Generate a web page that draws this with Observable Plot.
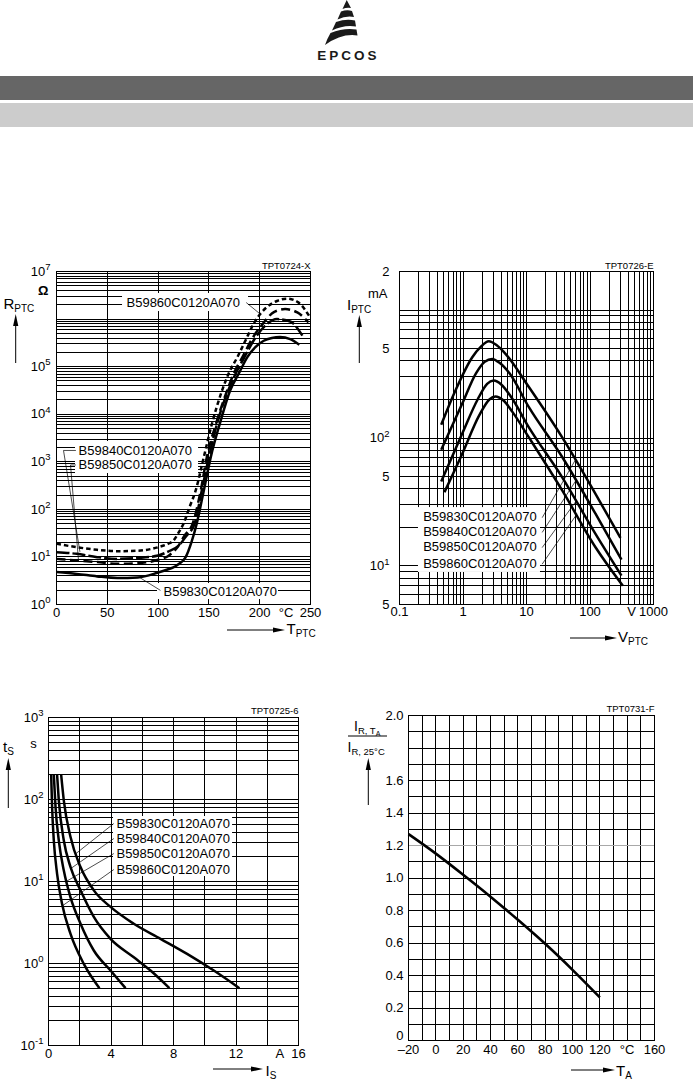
<!DOCTYPE html>
<html><head><meta charset="utf-8">
<script src="https://cdn.jsdelivr.net/npm/d3@7"></script>
<script src="https://cdn.jsdelivr.net/npm/@observablehq/plot@0.6"></script>
<style>
html,body{margin:0;padding:0;background:#fff;}
#page{position:relative;width:693px;height:1087px;overflow:hidden;font-family:"Liberation Sans",Arial,Helvetica,sans-serif;}
.chart{position:absolute;}
#overlay{position:absolute;left:0;top:0;}
</style></head>
<body><div id="page"><svg id="overlay" width="693" height="1087"></svg></div>
<script>
// ================= DATA =================
const partNames = ["B59830C0120A070","B59840C0120A070","B59850C0120A070","B59860C0120A070"];

// Chart 1: R_PTC (Ω) vs T_PTC (°C)
const rptcTemp830 = [0,20,40,60,80,100,110,115,120,127,133,138,145,152,161,171,180,188,196,204,212,220,230,239];
const rptcRes830  = [4.8,4.4,3.9,3.6,3.7,4.7,5.5,6.0,7.0,9.8,21,50,250,1300,6600,32000,76000,160000,260000,350000,400000,420000,380000,290000];
const rptcTemp840 = [0,20,40,60,80,100,110,120,128,136,143,150,158,169,177,185,194,205,217,230,242];
const rptcRes840  = [12.6,11.6,9.9,9.1,9.5,10.7,13,17,28,50,250,1260,6300,31600,76000,158000,355000,708000,1000000,890000,450000];
const rptcTemp850 = [0,20,40,60,80,100,110,119,126,134,142,148,157,168,175,183,193,203,214,225,237,248];
const rptcRes850  = [9.1,8.4,7.8,7.2,7.4,8.7,10.5,16,28,50,250,1260,6300,31600,76000,158000,400000,794000,1400000,1620000,1380000,850000];
const rptcTemp860 = [0,20,40,60,80,100,110,115,120,125,131,137,145,153,163,170,178,186,194,201,207,217,227,238,250];
const rptcRes860  = [18.9,16,14.1,13.2,13.5,16,19,22,32,50,112,250,1260,6300,31600,76000,158000,355000,794000,1320000,1780000,2400000,2690000,2240000,1050000];
const tickT1 = [0,50,100,150,200,226,250];
const tickT1Labels = ["0","50","100","150","200","°C","250"];
const tickR1 = [1,10,100,1000,10000,100000,10000000];
const tickR1Labels = ["10^0","10^1","10^2","10^3","10^4","10^5","10^7"];

// Chart 2: I_PTC (mA) vs V_PTC (V)
const iptcV830 = [0.454,0.76,1.4,1.9,2.55,3.4,4.67,10.9,36.5,122,302];
const iptcI830 = [127,235,428,515,570,530,455,250,101,36.6,16.6];
const iptcV840 = [0.454,0.97,1.6,2.2,2.88,3.8,5.4,10.9,36.5,122,313];
const iptcI840 = [81,185,320,395,415,385,320,174,71,25.6,11.2];
const iptcV850 = [0.454,0.97,1.7,2.4,3.05,4.0,5.7,10.9,36.5,122,313];
const iptcI850 = [45.7,108,200,265,281,262,210,121,49.3,17.8,8.4];
const iptcV860 = [0.51,0.97,1.8,2.6,3.25,4.3,6.0,10.9,36.5,122,329];
const iptcI860 = [37.7,75,150,200,211,197,160,101,38.9,14,7.0];
const tickV2 = [0.1,1,10,100,450,1000];
const tickV2Labels = ["0.1","1","10","100","V","1000"];
const tickI2 = [5,10,50,100,500,2000];
const tickI2Labels = ["5","10^1","5","10^2","5","2"];

// Chart 3: t_S (s) vs I_S (A)
const tsI830 = [0.81,0.98,1.41,2.05,2.90,3.97,5.46,7.17,8.87,10.58,12.22];
const tsT830 = [200,97,34.8,15,7.8,4.9,3.05,2.0,1.31,0.82,0.5];
const tsI840 = [0.55,0.66,0.98,1.41,2.05,2.90,3.97,5.46,6.53,7.74];
const tsT840 = [200,97,31.6,15,7.8,3.7,2.0,1.19,0.82,0.5];
const tsI850 = [0.34,0.45,0.66,0.98,1.41,2.05,2.90,3.97,4.93];
const tsT850 = [200,81,31.6,13.6,6.4,3.05,1.44,0.82,0.5];
const tsI860 = [0.17,0.23,0.34,0.55,0.87,1.41,2.26,3.26];
const tsT860 = [200,81,31.6,12.4,5.3,2.3,0.99,0.5];
const tickI3 = [0,4,8,12,14.8,16];
const tickI3Labels = ["0","4","8","12","A","16"];
const tickT3 = [0.1,1,10,100,1000];
const tickT3Labels = ["10^-1","10^0","10^1","10^2","10^3"];

// Chart 4: I_R,TA / I_R,25°C vs T_A
const ambTemp = [-20,0,20,40,60,80,100,120];
const currentRatio = [1.27,1.15,1.02,0.885,0.743,0.595,0.435,0.265];
const tickTA4 = [-20,0,20,40,60,80,100,120,140,160];
const tickTA4Labels = ["–20","0","20","40","60","80","100","120","°C","160"];
const tickR4 = [0,0.2,0.4,0.6,0.8,1.0,1.2,1.4,1.6,2.0];
const tickR4Labels = ["0","0.2","0.4","0.6","0.8","1.0","1.2","1.4","1.6","2.0"];

// ================= ANNOTATIONS (label anchors in data units) =================
const labels1 = [
  {text:"B59860C0120A070", x:68.9, y:2.2e6},
  {text:"B59840C0120A070", x:21.7, y:1730},
  {text:"B59850C0120A070", x:21.7, y:857},
  {text:"B59830C0120A070", x:105.3, y:1.88}
];
const boxes1 = [
  {x1:65, x2:189, y1:1.44e6, y2:3.45e6},
  {x1:18.7, x2:139.8, y1:567, y2:2670},
  {x1:99.4, x2:218.5, y1:1.27, y2:2.76}
];
const leaders1 = [
  {id:"860", pts:[[187,2.2e6],[200,1.3e6]]},
  {id:"840", pts:[[18.7,1730],[6.9,1730],[23,13]]},
  {id:"850", pts:[[18.7,857],[13.8,857],[21.6,8.7]]},
  {id:"830", pts:[[82.7,3.6],[102,2.0]]}
];
const labels2Y = [24.0,18.4,14.0,10.4];
const box2 = [{x1:0.199, x2:16.6, y1:8.9, y2:28.6}];
const leaderEnds2 = [[59,67.6],[60,46.5],[61,32.3],[62,25.4]];
const labels3Y = [50.6,33.2,21.8,13.9];
const box3 = [{x1:4.16, x2:11.78, y1:11.5, y2:62}];
const leaderEnds3 = [[1.77,22],[1.45,14.5],[1.13,10.0],[0.92,5.1]];

// ================= HELPERS =================
const FONT = '"Liberation Sans", Arial, Helvetica, sans-serif';
const page = document.getElementById("page");
function place(svg, left, top){
  const d = document.createElement("div");
  d.className = "chart"; d.style.left = left+"px"; d.style.top = top+"px";
  d.appendChild(svg); page.appendChild(d);
}
function supers(svg){
  d3.select(svg).selectAll("text").each(function(){
    const t = this.textContent; const i = t.indexOf("^");
    if (i < 0) return;
    const s = d3.select(this); s.text(null);
    s.append("tspan").text(t.slice(0,i));
    s.append("tspan").attr("font-size","9.5px").attr("dy","-5.5").text(t.slice(i+1));
  });
}
function rows(xs, ys){ return xs.map((x,i)=>({x, y: ys[i]})); }
function logGrid(d0, d1){
  const out = [];
  for (let d=d0; d<=d1; d++) for (let k=1;k<=9;k++) out.push(+(k*Math.pow(10,d)).toPrecision(6));
  return out;
}
const gridStyle = {stroke:"black", strokeWidth:1, shapeRendering:"crispEdges"};
const curveStyle = {x:"x", y:"y", stroke:"black", strokeWidth:2.5, curve:"monotone-x", strokeLinecap:"butt"};
const plotStyle = {fontFamily:FONT, fontSize:"13px", background:"transparent", color:"black", overflow:"visible"};
function leaderRows(list){ return list.flatMap(l => l.pts.map(p => ({id:l.id, x:p[0], y:p[1]}))); }

// ================= CHART 1 =================
const dash1 = {"B59830C0120A070":"none","B59840C0120A070":"13,3","B59850C0120A070":"9,4.5","B59860C0120A070":"4.5,3"};
const series1 = [
  [partNames[0], rptcTemp830, rptcRes830],
  [partNames[1], rptcTemp840, rptcRes840],
  [partNames[2], rptcTemp850, rptcRes850],
  [partNames[3], rptcTemp860, rptcRes860]
];
const c1 = Plot.plot({
  width:330, height:400, marginLeft:56, marginRight:20, marginTop:21, marginBottom:46,
  style: plotStyle,
  x:{domain:[0,250], axis:null},
  y:{type:"log", domain:[1,1e7], axis:null},
  marks:[
    Plot.ruleX([50,100,150,200], gridStyle),
    Plot.ruleY(logGrid(0,6).filter(v=>v>1), gridStyle),
    Plot.rect(boxes1, {x1:"x1", x2:"x2", y1:"y1", y2:"y2", fill:"white"}),
    ...series1.map(([p,T,R]) => Plot.line(rows(T,R), {...curveStyle, strokeDasharray: dash1[p]})),
    Plot.line(leaderRows(leaders1), {x:"x", y:"y", z:"id", stroke:"black", strokeWidth:0.7}),
    Plot.text(labels1, {x:"x", y:"y", text:"text", textAnchor:"start", fontSize:13}),
    Plot.frame({stroke:"black", strokeWidth:1}),
    Plot.text(tickT1, {x:d=>d, text:(d,i)=>tickT1Labels[i], frameAnchor:"bottom", dy:12.5, fontSize:13}),
    Plot.text(tickR1, {y:d=>d, text:(d,i)=>tickR1Labels[i], frameAnchor:"left", textAnchor:"end", dx:-6, fontSize:13}),
    Plot.text(["Ω"], {y:()=>4e6, text:d=>d, frameAnchor:"left", textAnchor:"end", dx:-8, fontSize:13, fontWeight:"bold"}),
    Plot.text(["TPT0724-X"], {text:d=>d, frameAnchor:"top-right", textAnchor:"end", lineAnchor:"bottom", dy:-3, fontSize:9.5})
  ]
});
supers(c1); place(c1, 0, 250);

// ================= CHART 2 =================
const series2 = [
  [iptcV830, iptcI830],[iptcV840, iptcI840],[iptcV850, iptcI850],[iptcV860, iptcI860]
];
const labelRows2 = partNames.map((p,i)=>({text:p, x:0.236, y:labels2Y[i]}));
const leaderRows2 = partNames.flatMap((p,i)=>[{id:p, x:17.8, y:labels2Y[i]},{id:p, x:leaderEnds2[i][0], y:leaderEnds2[i][1]}]);
const c2 = Plot.plot({
  width:353, height:400, marginLeft:59, marginRight:40, marginTop:21, marginBottom:46,
  style: plotStyle,
  x:{type:"log", domain:[0.1,1000], axis:null},
  y:{type:"log", domain:[5,2000], axis:null},
  marks:[
    Plot.ruleX(logGrid(-1,2).filter(v=>v>0.1 && v<1000), gridStyle),
    Plot.ruleY(logGrid(0,3).filter(v=>v>5 && v<2000), gridStyle),
    Plot.rect(box2, {x1:"x1", x2:"x2", y1:"y1", y2:"y2", fill:"white"}),
    ...series2.map(([V,I]) => Plot.line(rows(V,I), curveStyle)),
    Plot.line(leaderRows2, {x:"x", y:"y", z:"id", stroke:"black", strokeWidth:0.7}),
    Plot.text(labelRows2, {x:"x", y:"y", text:"text", textAnchor:"start", fontSize:13}),
    Plot.frame({stroke:"black", strokeWidth:1}),
    Plot.text(tickV2, {x:d=>d, text:(d,i)=>tickV2Labels[i], frameAnchor:"bottom", dy:11.5, fontSize:13}),
    Plot.text(tickI2, {y:d=>d, text:(d,i)=>tickI2Labels[i], frameAnchor:"left", textAnchor:"end", dx:-10, fontSize:13}),
    Plot.text(["mA"], {y:()=>1350, text:d=>d, frameAnchor:"left", textAnchor:"end", dx:-12, fontSize:13}),
    Plot.text(["TPT0726-E"], {text:d=>d, frameAnchor:"top-right", textAnchor:"end", lineAnchor:"bottom", dy:-3, fontSize:9.5})
  ]
});
supers(c2); place(c2, 340, 250);

// ================= CHART 3 =================
const series3 = [[tsI830, tsT830],[tsI840, tsT840],[tsI850, tsT850],[tsI860, tsT860]];
const labelRows3 = partNames.map((p,i)=>({text:p, x:4.35, y:labels3Y[i]}));
const leaderRows3 = partNames.flatMap((p,i)=>[{id:p, x:4.16, y:labels3Y[i]},{id:p, x:leaderEnds3[i][0], y:leaderEnds3[i][1]}]);
const c3 = Plot.plot({
  width:330, height:397, marginLeft:48, marginRight:32, marginTop:27, marginBottom:42,
  style: plotStyle,
  x:{domain:[0,16], axis:null},
  y:{type:"log", domain:[0.1,1000], axis:null},
  marks:[
    Plot.ruleX([2,4,6,8,10,12,14], gridStyle),
    Plot.ruleY(logGrid(-1,2).filter(v=>v>0.1), gridStyle),
    Plot.rect(box3, {x1:"x1", x2:"x2", y1:"y1", y2:"y2", fill:"white"}),
    ...series3.map(([I,t]) => Plot.line(rows(I,t), curveStyle)),
    Plot.line(leaderRows3, {x:"x", y:"y", z:"id", stroke:"black", strokeWidth:0.7}),
    Plot.text(labelRows3, {x:"x", y:"y", text:"text", textAnchor:"start", fontSize:13}),
    Plot.frame({stroke:"black", strokeWidth:1}),
    Plot.text(tickI3, {x:d=>d, text:(d,i)=>tickI3Labels[i], frameAnchor:"bottom", dy:12, fontSize:13}),
    Plot.text(tickT3, {y:d=>d, text:(d,i)=>tickT3Labels[i], frameAnchor:"left", textAnchor:"end", dx:-5, fontSize:13}),
    Plot.text(["s"], {y:()=>482, text:d=>d, frameAnchor:"left", textAnchor:"middle", dx:-15, fontSize:13}),
    Plot.text(["TPT0725-6"], {text:d=>d, frameAnchor:"top-right", textAnchor:"end", lineAnchor:"bottom", dy:-4, fontSize:9.5})
  ]
});
supers(c3); place(c3, 0, 690);

// ================= CHART 4 =================
const grid4X = d3.range(-10, 160, 10);
const grid4Y = d3.range(1, 20).map(k => +(k/10).toFixed(1));
const c4 = Plot.plot({
  width:353, height:397, marginLeft:68, marginRight:39, marginTop:25, marginBottom:47,
  style: plotStyle,
  x:{domain:[-20,160], axis:null},
  y:{domain:[0,2], axis:null},
  marks:[
    Plot.ruleX(grid4X, gridStyle),
    Plot.ruleY(grid4Y.filter(v=>v!==1.2), gridStyle),
    Plot.ruleY(grid4Y.filter(v=>v===1.2), {...gridStyle, stroke:"#a8a8a8"}),
    Plot.line(rows(ambTemp, currentRatio), {...curveStyle, strokeWidth:2.6}),
    Plot.frame({stroke:"black", strokeWidth:1}),
    Plot.text(tickTA4, {x:d=>d, text:(d,i)=>tickTA4Labels[i], frameAnchor:"bottom", dy:13, fontSize:13}),
    Plot.text(tickR4.slice(1), {y:d=>d, text:(d,i)=>tickR4Labels[i+1], frameAnchor:"left", textAnchor:"end", dx:-5, fontSize:13}),
    Plot.text(tickR4.slice(0,1), {y:d=>d, text:(d,i)=>tickR4Labels[i], frameAnchor:"left", textAnchor:"end", dx:-5, dy:-5, fontSize:13}),
    Plot.text(["TPT0731-F"], {text:d=>d, frameAnchor:"top-right", textAnchor:"end", lineAnchor:"bottom", dy:-4, fontSize:9.5})
  ]
});
place(c4, 340, 690);

// ================= OVERLAY: header, logo, axis titles =================
const ov = d3.select("#overlay").style("font-family", FONT);
ov.append("rect").attr("x",0).attr("y",76).attr("width",693).attr("height",24).attr("fill","#666666");
ov.append("rect").attr("x",0).attr("y",103).attr("width",693).attr("height",24).attr("fill","#cccccc");
const logo = ov.append("g").attr("fill","#1a1a1a");
["M346.7,0 L351,8 Q347,7 342.5,9 Z",
 "M341,11.5 Q347,9.5 352,11 L354,17 Q346,15.5 337.5,19.5 Z",
 "M336,22 Q346,18.5 355,20.5 L356,26.5 Q344,24.5 332,30.5 Z",
 "M330.5,33 Q344,27.5 356.5,29.5 L357.5,35.5 Q342,33 325,45 Q327,39 330.5,33 Z"
].forEach(p => logo.append("path").attr("d", p));
ov.append("text").attr("x",348.5).attr("y",60).attr("text-anchor","middle")
  .attr("font-size",13.5).attr("font-weight","bold").attr("letter-spacing",3).attr("fill","#1a1a1a").text("EPCOS");

function arrowUp(x, yTop, yBot){
  ov.append("line").attr("x1",x).attr("x2",x).attr("y1",yBot).attr("y2",yTop+8).attr("stroke","black").attr("stroke-width",1);
  ov.append("path").attr("d",`M${x},${yTop} L${x-2.6},${yTop+12} L${x+2.6},${yTop+12} Z`).attr("fill","black");
}
function arrowRight(x1, x2, y){
  ov.append("line").attr("x1",x1).attr("x2",x2-8).attr("y1",y).attr("y2",y).attr("stroke","black").attr("stroke-width",1);
  ov.append("path").attr("d",`M${x2},${y} L${x2-12},${y-2.6} L${x2-12},${y+2.6} Z`).attr("fill","black");
}
function subLabel(x, y, main, sub, size, subSize){
  const t = ov.append("text").attr("x",x).attr("y",y).attr("font-size",size).attr("fill","black");
  t.append("tspan").text(main);
  t.append("tspan").attr("font-size",subSize).attr("dy",3).text(sub);
  return t;
}
// Chart 1
subLabel(3.5, 308.5, "R", "PTC", 15, 10);
arrowUp(15.7, 314, 363);
arrowRight(227, 285, 630);
subLabel(286.5, 634, "T", "PTC", 15, 10);
// Chart 2
subLabel(347, 310, "I", "PTC", 15, 10);
arrowUp(359.3, 315, 363);
arrowRight(570, 617, 638);
subLabel(618, 642, "V", "PTC", 15, 10);
// Chart 3
subLabel(3, 752, "t", "S", 15, 10);
arrowUp(8.3, 758, 808);
arrowRight(213, 263, 1069);
subLabel(265.5, 1075.5, "I", "S", 15, 10);
// Chart 4
(function(){
  const t = ov.append("text").attr("x",354).attr("y",730.5).attr("font-size",14).attr("fill","black");
  t.append("tspan").text("I");
  t.append("tspan").attr("font-size",9.5).attr("dy",3).text("R, T");
  t.append("tspan").attr("font-size",7).attr("dy",2).text("A");
  ov.append("line").attr("x1",348).attr("x2",387).attr("y1",736).attr("y2",736).attr("stroke","black").attr("stroke-width",1);
  const b = ov.append("text").attr("x",347.5).attr("y",751.5).attr("font-size",14).attr("fill","black");
  b.append("tspan").text("I");
  b.append("tspan").attr("font-size",9.5).attr("dy",3).text("R, 25°C");
})();
arrowUp(368.3, 758, 805);
arrowRight(571, 615, 1070);
subLabel(616, 1075.5, "T", "A", 15, 10);
</script>
</body></html>
